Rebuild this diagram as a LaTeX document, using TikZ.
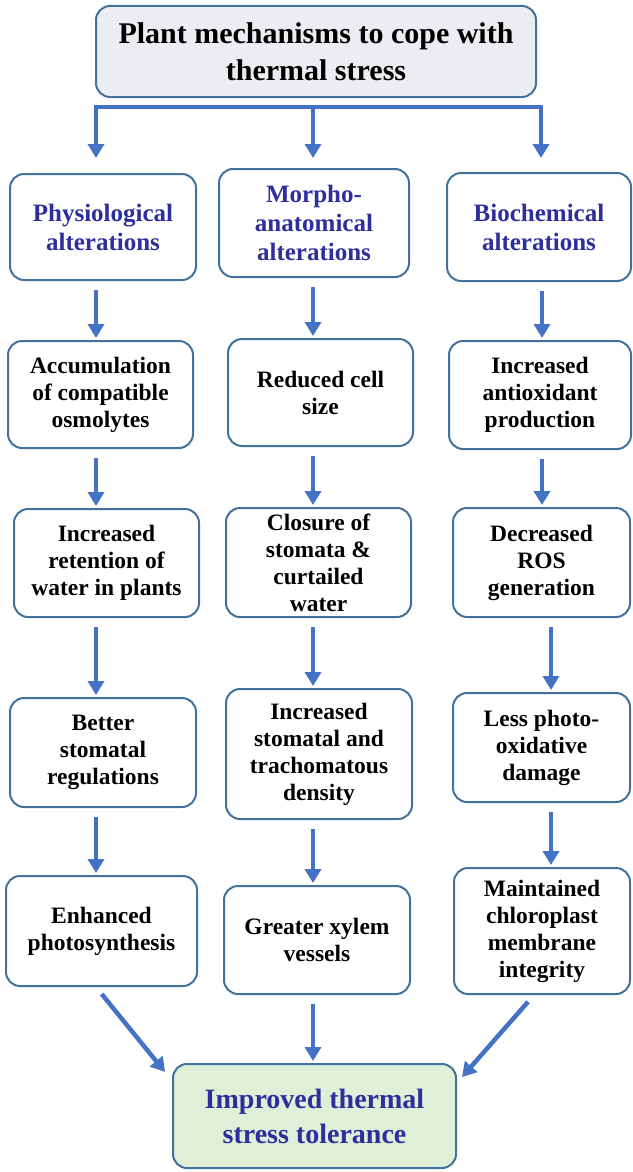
\documentclass[tikz,border=0pt]{standalone}
\usepackage{fontspec}
\setmainfont{Liberation Serif}
\usetikzlibrary{arrows.meta}

\definecolor{boxblue}{RGB}{65,113,156}
\definecolor{arrowblue}{RGB}{68,114,196}
\definecolor{headblue}{RGB}{46,46,156}
\definecolor{titlegray}{RGB}{236,237,241}
\definecolor{resultgreen}{RGB}{224,239,216}

\begin{document}
\begin{tikzpicture}[x=1pt, y=-1pt,
    box/.style={draw=boxblue, line width=2pt, rounded corners=14pt, fill=white,
        align=center, inner sep=0pt, font=\fontsize{23.5}{27}\selectfont\bfseries},
    headbox/.style={box, text=headblue, font=\fontsize{25}{29}\selectfont\bfseries},
    arr/.style={arrowblue, line width=4.5pt, -{Triangle[width=16pt,length=14pt]},
        shorten <=9pt, shorten >=2pt},
    bar/.style={arrowblue, line width=4.5pt, -{Triangle[width=16pt,length=14pt]}}]
        \useasboundingbox (0,0) rectangle (632,1172);
        \node[box, fill=titlegray, minimum width=440pt, minimum height=91pt,
            font=\fontsize{30}{37}\selectfont\bfseries] (title) at (316,51.5)
            {Plant mechanisms to cope with\\thermal stress};
        \node[headbox, minimum width=186pt, minimum height=106pt] (phys) at (103,227) {Physiological\\alterations};
        \node[headbox, minimum width=190pt, minimum height=108pt] (morph) at (314,223) {Morpho-\\anatomical\\alterations};
        \node[headbox, minimum width=184pt, minimum height=108pt] (bio) at (539,227) {Biochemical\\alterations};
        \node[box, minimum width=185pt, minimum height=107pt] (acc) at (100.5,394.5) {Accumulation\\of compatible\\osmolytes};
        \node[box, minimum width=185pt, minimum height=107pt] (red) at (320.5,392.5) {Reduced cell\\size};
        \node[box, minimum width=182pt, minimum height=108pt] (anti) at (540,395) {Increased\\antioxidant\\production};
        \node[box, minimum width=185pt, minimum height=108pt] (ret) at (106.5,563) {Increased\\retention of\\water in plants};
        \node[box, minimum width=185pt, minimum height=109pt] (clos) at (318.5,562.5) {Closure of\\stomata \&\\curtailed\\water};
        \node[box, minimum width=177pt, minimum height=109pt] (ros) at (541.5,562.5) {Decreased\\ROS\\generation};
        \node[box, minimum width=186pt, minimum height=109pt] (better) at (103,752.5) {Better\\stomatal\\regulations};
        \node[box, minimum width=186pt, minimum height=130pt] (incs) at (319,754) {Increased\\stomatal and\\trachomatous\\density};
        \node[box, minimum width=177pt, minimum height=109pt] (less) at (541.5,747.5) {Less photo-\\oxidative\\damage};
        \node[box, minimum width=191pt, minimum height=110pt] (enh) at (101.5,931) {Enhanced\\photosynthesis};
        \node[box, minimum width=186pt, minimum height=108pt] (xyl) at (317,940) {Greater xylem\\vessels};
        \node[box, minimum width=176pt, minimum height=126pt] (main) at (542,931) {Maintained\\chloroplast\\membrane\\integrity};
        \node[box, fill=resultgreen, text=headblue, minimum width=283pt, minimum height=104pt,
            font=\fontsize{28}{35}\selectfont\bfseries] (imp) at (314.5,1116) {Improved thermal\\stress tolerance};
        \coordinate (tl) at (96,107);
        \coordinate (tm) at (313,107);
        \coordinate (tr) at (541,107);
        \coordinate (c1) at (96,0);
        \coordinate (c2) at (313,0);
        \coordinate (c3) at (542,0);
        \coordinate (c3b) at (551,0);
        \coordinate (c4) at (534,0);
        \coordinate (dl) at (165,1072);
        \coordinate (dr) at (462,1077);
        \draw[bar] (tr) -- (tl) -- ++(0,51);
        \draw[bar] (tl) -- (tr) -- ++(0,51);
        \draw[bar] (tm) -- ++(0,51);
        \draw[arr] (phys.south -| c1) -- (acc.north -| c1);
        \draw[arr] (acc.south -| c1) -- (ret.north -| c1);
        \draw[arr] (ret.south -| c1) -- (better.north -| c1);
        \draw[arr] (better.south -| c1) -- (enh.north -| c1);
        \draw[arr] (morph.south -| c2) -- (red.north -| c2);
        \draw[arr] (red.south -| c2) -- (clos.north -| c2);
        \draw[arr] (clos.south -| c2) -- (incs.north -| c2);
        \draw[arr] (incs.south -| c2) -- (xyl.north -| c2);
        \draw[arr] (xyl.south -| c2) -- (imp.north -| c2);
        \draw[arr] (bio.south -| c3) -- (anti.north -| c3);
        \draw[arr] (anti.south -| c3) -- (ros.north -| c3);
        \draw[arr] (ros.south -| c3b) -- (less.north -| c3b);
        \draw[arr] (less.south -| c3b) -- (main.north -| c3b);
        \draw[arr, shorten >=0pt] (enh.south -| c1) -- (dl);
        \draw[arr, shorten >=0pt] (main.south -| c4) -- (dr);
    \end{tikzpicture}
\end{document}
